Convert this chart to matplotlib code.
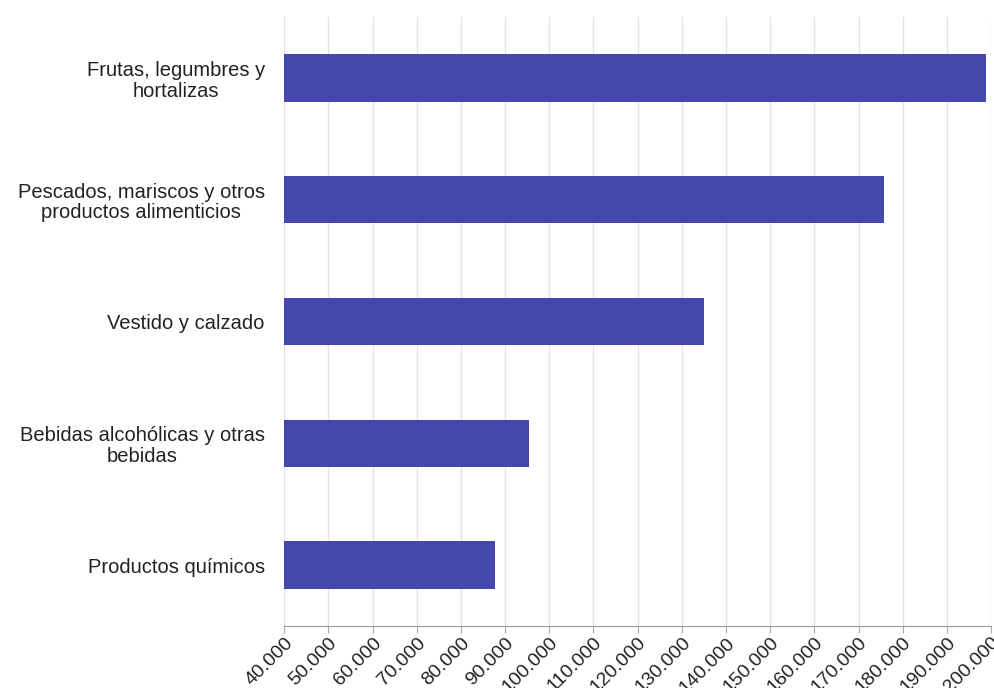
import matplotlib.pyplot as plt
from matplotlib.ticker import FuncFormatter

categories = [
    "Frutas, legumbres y\nhortalizas",
    "Pescados, mariscos y otros\nproductos alimenticios",
    "Vestido y calzado",
    "Bebidas alcohólicas y otras\nbebidas",
    "Productos químicos",
]
values = [198800, 175800, 135000, 95400, 87700]
x_ticks = list(range(40000, 200001, 10000))


def main():
    plt.rcParams["font.family"] = ["Liberation Sans", "DejaVu Sans"]
    fig = plt.figure(figsize=(9.95, 6.88), dpi=100)
    ax = fig.add_axes([0.2857, 0.0901, 0.7103, 0.8852])

    pos = list(range(len(categories)))
    ax.barh(pos, [v - 40000 for v in values], left=40000, height=0.39,
            color="#4447ac", zorder=3)

    ax.set_ylim(len(categories) - 0.5, -0.5)
    ax.set_xlim(40000, 200000)
    ax.set_yticks(pos)
    ax.set_yticklabels(categories, fontsize=14.5, color="#222222",
                       multialignment="center", linespacing=1.12)
    ax.tick_params(axis="y", length=0, pad=14)

    ax.set_xticks(x_ticks)
    ax.xaxis.set_major_formatter(
        FuncFormatter(lambda v, p: f"{int(v):,}".replace(",", ".")))
    ax.tick_params(axis="x", length=5, color="#aaaaaa", labelsize=14,
                   labelcolor="#222222", pad=1)
    for lbl in ax.get_xticklabels():
        lbl.set_rotation(45)
        lbl.set_ha("right")
        lbl.set_va("top")
        lbl.set_rotation_mode("anchor")

    ax.grid(axis="x", color="#e2e2e2", linewidth=1, zorder=0)
    for side in ["top", "right", "left"]:
        ax.spines[side].set_visible(False)
    ax.spines["bottom"].set_color("#999999")

    fig.savefig("out.png", dpi=100)


if __name__ == "__main__":
    main()
